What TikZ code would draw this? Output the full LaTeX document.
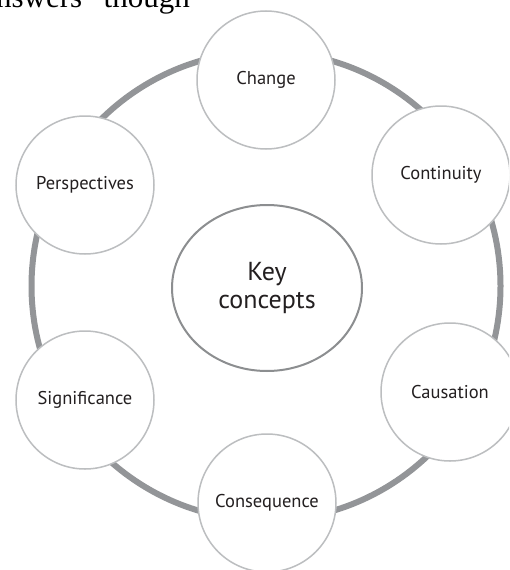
\documentclass[tikz,border=0pt]{standalone}
\usepackage{fontspec}
\setmainfont{PT Sans}
\newfontfamily\serifface{Liberation Serif}
\usetikzlibrary{shapes.geometric}
\definecolor{nodegray}{HTML}{BCBEC0}
\definecolor{coregray}{HTML}{8C8E90}
\definecolor{ringgray}{HTML}{939598}
\definecolor{textblack}{HTML}{231F20}
\begin{document}
\begin{tikzpicture}[x=1pt,y=-1pt,
  concept/.style={circle, draw=nodegray, line width=1.5pt, fill=white,
    minimum size=138pt, inner sep=0pt, text=textblack,
    font=\fontsize{18.5}{22}\selectfont},
  core/.style={ellipse, draw=coregray, line width=2pt, fill=white,
    minimum width=190pt, minimum height=166pt, inner sep=0pt, align=center,
    text=textblack, font=\fontsize{26}{28}\selectfont},
  ring/.style={draw=ringgray, line width=6pt},
  topline/.style={anchor=base east, inner sep=0pt, text=black,
    font=\serifface\fontsize{31}{31}\selectfont}]
\useasboundingbox (0,0) rectangle (509,570);
\fill[white] (0,0) rectangle (509,570);
\clip (0,0) rectangle (509,570);
\coordinate (hub) at (266,286);
\draw[ring] (hub) circle [radius=234.5pt];
\node[topline] (toptext) at (190,8) {answers” though};
\node[concept] (change) at (266,80) {Change};
\node[concept] (continuity) at (441,175) {Continuity};
\node[concept] (causation) at (450,392) {Causation};
\node[concept] (consequence) at (267,503) {Consequence};
\node[concept] (significance) at (85,400) {Significance};
\node[concept] (perspectives) at (85,185) {Perspectives};
\node[core] (key) at (267,288) {Key\\concepts};
\end{tikzpicture}
\end{document}
